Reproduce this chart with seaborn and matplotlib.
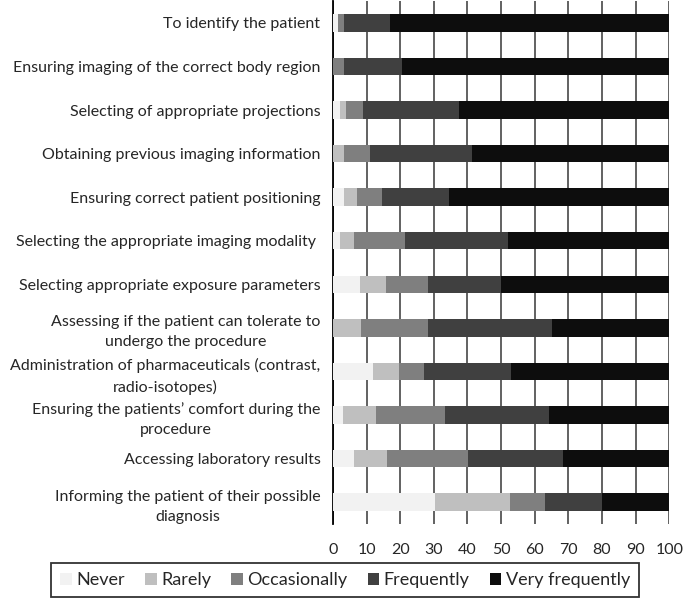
import numpy as np
import pandas as pd
import matplotlib
matplotlib.use("Agg")
import matplotlib.pyplot as plt
import seaborn as sns
from matplotlib.patches import Patch

categories = [
    "To identify the patient",
    "Ensuring imaging of the correct body region",
    "Selecting of appropriate projections",
    "Obtaining previous imaging information",
    "Ensuring correct patient positioning",
    "Selecting the appropriate imaging modality ",
    "Selecting appropriate exposure parameters",
    "Assessing if the patient can tolerate to\nundergo the procedure",
    "Administration of pharmaceuticals (contrast,\nradio-isotopes)",
    "Ensuring the patients\u2019 comfort during the\nprocedure",
    "Accessing laboratory results",
    "Informing the patient of their possible\ndiagnosis",
]

never = [1.4, 0.0, 2.2, 0.0, 3.4, 2.2, 8.1, 0.0, 11.9, 2.9, 6.3, 30.4]
rarely = [0.2, 0.0, 1.7, 3.4, 3.7, 4.2, 7.7, 8.4, 7.8, 9.9, 9.9, 22.4]
occasionally = [1.8, 3.4, 5.0, 7.7, 7.5, 15.1, 12.6, 20.0, 7.4, 20.6, 24.1, 10.3]
frequently = [13.6, 17.2, 28.5, 30.2, 19.9, 30.5, 21.5, 36.8, 25.8, 30.7, 28.0, 16.8]
very_frequently = [83.0, 79.4, 62.6, 58.7, 65.5, 48.0, 50.1, 34.8, 47.1, 35.9, 31.7, 20.1]

series_names = ["Never", "Rarely", "Occasionally", "Frequently", "Very frequently"]
colors = ["#f2f2f2", "#bfbfbf", "#7f7f7f", "#404040", "#0d0d0d"]
xticks = list(range(0, 101, 10))

sns.set_style("white")
plt.rcParams["font.family"] = ["Lato", "DejaVu Sans"]

df = pd.DataFrame({
    "item": categories,
    "Never": never,
    "Rarely": rarely,
    "Occasionally": occasionally,
    "Frequently": frequently,
    "Very frequently": very_frequently,
})
cum = df[series_names].cumsum(axis=1)

fig = plt.figure(figsize=(6.85, 5.98), dpi=100)
ax = fig.add_axes([0.486, 0.124, 0.491, 0.874])

# stacked bars: draw cumulative totals from the outermost series inward
for name, col in reversed(list(zip(series_names, colors))):
    sns.barplot(x=cum[name], y=df["item"], color=col, orient="h",
                width=0.4, linewidth=0, saturation=1, ax=ax, zorder=3)

ax.set_xlim(0, 100)
ax.set_xticks(xticks)
ax.set_xticklabels([str(t) for t in xticks], fontsize=11.5)
ax.set_xlabel("")
ax.set_ylabel("")
ax.grid(axis="x", color="#555555", linewidth=1.3, zorder=0)
ax.set_axisbelow(True)
for s in ["top", "right", "bottom"]:
    ax.spines[s].set_visible(False)
ax.spines["left"].set_color("black")
ax.spines["left"].set_linewidth(1.3)
ax.tick_params(axis="x", length=0, pad=14)
ax.tick_params(axis="y", length=0, pad=9)
for lbl in ax.get_yticklabels():
    lbl.set_fontsize(11.5)
    lbl.set_multialignment("center")
    lbl.set_linespacing(1.55)

handles = [Patch(facecolor=c, edgecolor="none") for c in colors]
leg = fig.legend(handles, series_names, loc="center", bbox_to_anchor=(0.504, 0.030),
                 ncol=5, frameon=True, fancybox=False, fontsize=13,
                 handlelength=0.65, handleheight=0.65, handletextpad=0.25,
                 columnspacing=1.1, borderpad=0.5)
leg.get_frame().set_edgecolor("black")
leg.get_frame().set_linewidth(1.3)

fig.savefig("out.png", dpi=100)
